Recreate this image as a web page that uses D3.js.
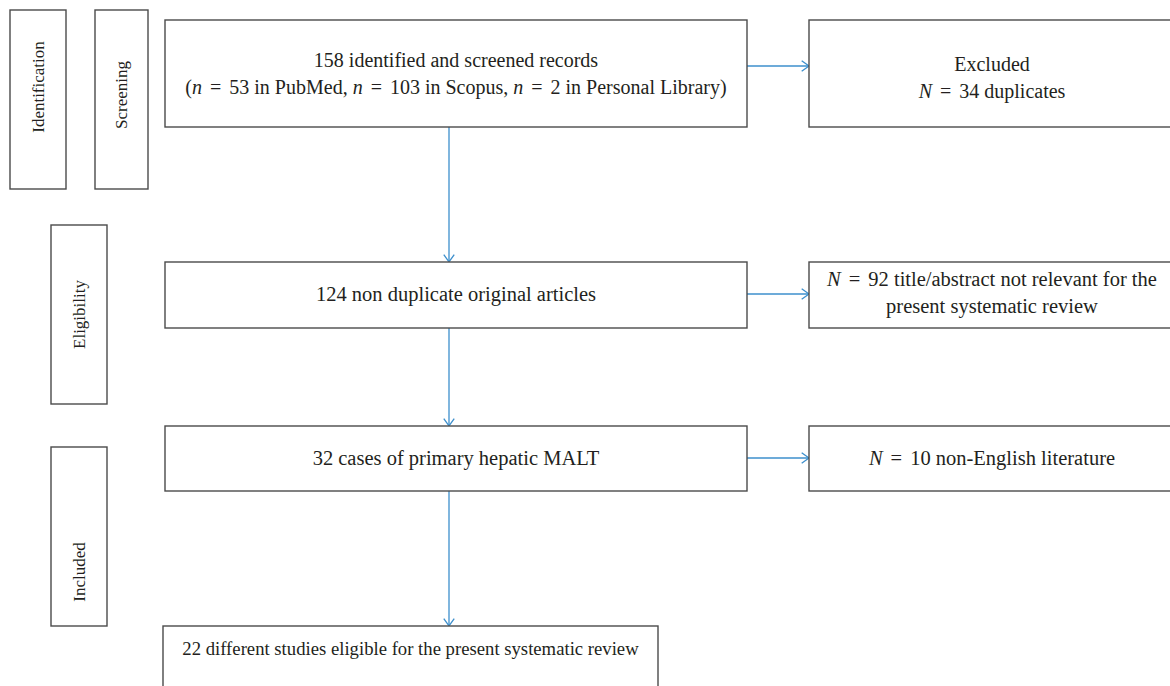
<!DOCTYPE html>
<html><head><meta charset="utf-8">
<script src="https://cdn.jsdelivr.net/npm/d3@7"></script>
<style>body{margin:0;background:#fff}svg{display:block}</style>
</head><body>
<svg id="c" width="1170" height="686"></svg>
<script>
// ---- data ----
const stageLabels = ["Identification", "Screening", "Eligibility", "Included"];
// main flow boxes: each line is a list of [text, italic] segments
const mainTexts = [
  [[["158 identified and screened records", false]],
   [["(", false], ["n", true], [" = 53 in PubMed, ", false], ["n", true], [" = 103 in Scopus, ", false], ["n", true], [" = 2 in Personal Library)", false]]],
  [[["124 non duplicate original articles", false]]],
  [[["32 cases of primary hepatic MALT", false]]],
  [[["22 different studies eligible for the present systematic review", false]]]
];
const excludedTexts = [
  [[["Excluded", false]], [["N", true], [" = 34 duplicates", false]]],
  [[["N", true], [" = 92 title/abstract not relevant for the", false]], [["present systematic review", false]]],
  [[["N", true], [" = 10 non-English literature", false]]]
];

// ---- layout ----
const svg = d3.select("#c");
const FONT = "'Liberation Serif', 'DejaVu Serif', serif";
const boxStroke = "#4a4a4a";
const arrowColor = "#3d8fcc";
const textColor = "#231f20";

const stageBoxes = [
  {x0: 10, x1: 66, y0: 10, y1: 189, cy: 87},
  {x0: 95, x1: 148, y0: 10, y1: 189, cy: 95},
  {x0: 51, x1: 107, y0: 225, y1: 404, cy: 314.5},
  {x0: 51, x1: 107, y0: 447, y1: 626, cy: 572}
];
const mainBoxes = [
  {x0: 165, x1: 747, y0: 20, y1: 127, arrowY: 66, cy: 74, fs: 20},
  {x0: 165, x1: 747, y0: 262, y1: 328, arrowY: 294, cy: 294, fs: 20.5},
  {x0: 165, x1: 747, y0: 426, y1: 491, arrowY: 458, cy: 458, fs: 20.5},
  {x0: 163, x1: 658, y0: 626, y1: 700, cy: 649, fs: 18.7}
];
const exBoxes = [
  {x0: 809, x1: 1175, y0: 20, y1: 127, cy: 77.5, fs: 20},
  {x0: 809, x1: 1175, y0: 262, y1: 328, cy: 293, fs: 20.5},
  {x0: 809, x1: 1175, y0: 426, y1: 491, cy: 458, fs: 20.5}
];
const flowX = 449;
const lh = 27, sideFs = 17, eqPad = 8;

function rect(b) {
  svg.append("rect").attr("x", b.x0).attr("y", b.y0)
    .attr("width", b.x1 - b.x0).attr("height", b.y1 - b.y0)
    .attr("fill", "#fff").attr("stroke", boxStroke).attr("stroke-width", 1.4);
}
function lines(lineArr, cx, cy, fs) {
  const n = lineArr.length;
  lineArr.forEach((segs, i) => {
    const t = svg.append("text").attr("x", cx)
      .attr("y", cy + (i - (n - 1) / 2) * lh)
      .attr("dy", "0.33em").attr("text-anchor", "middle")
      .attr("font-family", FONT).attr("font-size", fs).attr("fill", textColor);
    segs.forEach(([s, it]) => {
      const parts = s.split(" = ");
      parts.forEach((p, k) => {
        if (k > 0) t.append("tspan").text("=").attr("dx", eqPad);
        const sp = t.append("tspan").text(p).attr("font-style", it ? "italic" : "normal");
        if (k > 0) sp.attr("dx", eqPad);
      });
    });
  });
}

// stage boxes
stageBoxes.forEach((b, i) => {
  rect(b);
  const cx = (b.x0 + b.x1) / 2;
  svg.append("text").attr("transform", `translate(${cx},${b.cy}) rotate(-90)`)
    .attr("dy", "0.33em").attr("text-anchor", "middle")
    .attr("font-family", FONT).attr("font-size", sideFs).attr("fill", textColor)
    .text(stageLabels[i]);
});

// arrows
function arrow(x1, y1, x2, y2) {
  svg.append("line").attr("x1", x1).attr("y1", y1).attr("x2", x2).attr("y2", y2)
    .attr("stroke", arrowColor).attr("stroke-width", 1.3);
  const a = Math.atan2(y2 - y1, x2 - x1), L = 9, w = 0.62;
  const p = d3.path();
  p.moveTo(x2 - L * Math.cos(a - w), y2 - L * Math.sin(a - w));
  p.lineTo(x2, y2);
  p.lineTo(x2 - L * Math.cos(a + w), y2 - L * Math.sin(a + w));
  svg.append("path").attr("d", p.toString()).attr("fill", "none")
    .attr("stroke", arrowColor).attr("stroke-width", 1.3);
}
for (let i = 0; i < mainBoxes.length - 1; i++) {
  arrow(flowX, mainBoxes[i].y1, flowX, mainBoxes[i + 1].y0);
  arrow(mainBoxes[i].x1, mainBoxes[i].arrowY, exBoxes[i].x0, mainBoxes[i].arrowY);
}

mainBoxes.forEach((b, i) => {
  rect(b);
  lines(mainTexts[i], (b.x0 + b.x1) / 2, b.cy, b.fs);
});
exBoxes.forEach((b, i) => {
  rect(b);
  lines(excludedTexts[i], (b.x0 + b.x1) / 2, b.cy, b.fs);
});
</script>
</body></html>
